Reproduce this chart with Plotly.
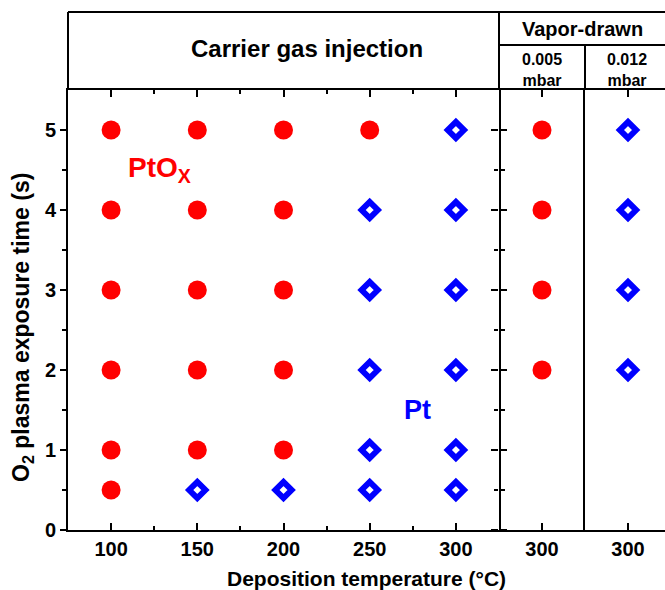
import plotly.graph_objects as go

# ---- data -------------------------------------------------------------
# Carrier gas injection: deposition temperature (°C) vs O2 plasma exposure time (s)
ptox_cgi_temp = [100, 100, 100, 100, 100, 100,
                 150, 150, 150, 150, 150,
                 200, 200, 200, 200, 200,
                 250]
ptox_cgi_time = [0.5, 1, 2, 3, 4, 5,
                 1, 2, 3, 4, 5,
                 1, 2, 3, 4, 5,
                 5]
pt_cgi_temp = [150, 200,
               250, 250, 250, 250, 250,
               300, 300, 300, 300, 300, 300]
pt_cgi_time = [0.5, 0.5,
               0.5, 1, 2, 3, 4,
               0.5, 1, 2, 3, 4, 5]

# Vapor-drawn precursor at two pressures, deposited at 300 °C
vd_low_temp = [300, 300, 300, 300]      # 0.005 mbar -> PtOx
vd_low_time = [2, 3, 4, 5]
vd_high_temp = [300, 300, 300, 300]     # 0.012 mbar -> Pt
vd_high_time = [2, 3, 4, 5]

cgi_ticks = [100, 150, 200, 250, 300]
cgi_minor = [125, 175, 225, 275]
vd_ticks = [300]
y_ticks = [0, 1, 2, 3, 4, 5]
y_minor = [0.5, 1.5, 2.5, 3.5, 4.5]

# ---- styling ----------------------------------------------------------
W, H = 665, 590
L, R, T, B = 68, 0, 90, 60
FONT = "Liberation Sans, Arial, Helvetica, sans-serif"
RED = "#ff0000"
BLUE = "#0000ff"


def px(x):
    return (x - L) / (W - L - R)


def py(y):
    return (H - B - y) / (H - T - B)


circle = dict(symbol="circle", size=19, color=RED, line=dict(width=0))
diamond = dict(symbol="diamond-open", size=12.5, color=BLUE,
               line=dict(width=6, color=BLUE))

fig = go.Figure()
fig.add_trace(go.Scatter(x=ptox_cgi_temp, y=ptox_cgi_time, mode="markers",
                         marker=circle, xaxis="x", yaxis="y"))
fig.add_trace(go.Scatter(x=pt_cgi_temp, y=pt_cgi_time, mode="markers",
                         marker=diamond, xaxis="x", yaxis="y"))
fig.add_trace(go.Scatter(x=vd_low_temp, y=vd_low_time, mode="markers",
                         marker=circle, xaxis="x2", yaxis="y2"))
fig.add_trace(go.Scatter(x=vd_high_temp, y=vd_high_time, mode="markers",
                         marker=diamond, xaxis="x3", yaxis="y3"))

tickfont = dict(family=FONT, size=20, color="black", weight="bold")
x_common = dict(showline=True, linewidth=2, linecolor="black", mirror="ticks",
                ticks="inside", ticklen=7, tickwidth=2, tickcolor="black",
                showgrid=False, zeroline=False, tickfont=tickfont)
y_common = dict(range=[0, 5.5], showgrid=False, zeroline=False,
                linewidth=2, linecolor="black")

d1 = px(499)
d2 = px(585)

fig.update_layout(
    width=W, height=H,
    margin=dict(l=L, r=R, t=T, b=B),
    paper_bgcolor="white", plot_bgcolor="white",
    showlegend=False,
    xaxis=dict(domain=[0, d1], range=[75, 325], tickvals=cgi_ticks,
               minor=dict(tickvals=cgi_minor, ticks="inside", ticklen=4,
                          tickwidth=2, tickcolor="black"),
               anchor="y", **x_common),
    xaxis2=dict(domain=[d1, d2], range=[275, 325], tickvals=vd_ticks,
                anchor="y2", **x_common),
    xaxis3=dict(domain=[d2, 1], range=[275, 275 + 50 * (W - R - 585) / 86],
                tickvals=vd_ticks, anchor="y3", **x_common),
    yaxis=dict(anchor="x", tickvals=y_ticks, ticks="outside", ticklen=6,
               tickwidth=2, tickcolor="black", mirror="ticks", showline=True,
               minor=dict(tickvals=y_minor, ticks="outside", ticklen=4,
                          tickwidth=2, tickcolor="black"),
               tickfont=tickfont, **y_common),
    yaxis2=dict(anchor="x2", tickvals=y_ticks, ticks="outside", ticklen=7,
                tickwidth=2, tickcolor="black", showticklabels=False,
                showline=False,
                minor=dict(tickvals=y_minor, ticks="outside", ticklen=4,
                           tickwidth=2, tickcolor="black"),
                **y_common),
    yaxis3=dict(anchor="x3", ticks="", showticklabels=False, showline=True,
                **y_common),
)

# header table above the plot
line = dict(color="black", width=2)
header_lines = [
    (L, 12, W, 12),
    (L, 12, L, T),
    (499, 12, 499, T),
    (499, 45, W, 45),
    (585, 45, 585, T),
]
for x0, y0, x1, y1 in header_lines:
    fig.add_shape(type="line", xref="paper", yref="paper",
                  x0=px(x0), y0=py(y0), x1=px(x1), y1=py(y1), line=line)


def note(text, x, y, size, color="black", xanchor="center", **kw):
    fig.add_annotation(text=text, x=px(x), y=py(y), xref="paper", yref="paper",
                       showarrow=False, xanchor=xanchor, yanchor="middle",
                       font=dict(family=FONT, size=size, color=color,
                                 weight="bold"), **kw)


note("Carrier gas injection", 307, 48, 24)
note("Vapor-drawn", 582, 29, 20)
note("0.005<br>mbar", 542, 70, 16)
note("0.012<br>mbar", 627, 70, 16)
note("PtO<sub>X</sub>", 126, 170, 28, RED, xanchor="left")
note("Pt", 418, 410, 27, BLUE)
note("Deposition temperature (°C)", 366, 578, 21)
note("O<sub>2</sub> plasma exposure time (s)", 22, 328, 23, textangle=-90)

fig.write_html("out.html")
